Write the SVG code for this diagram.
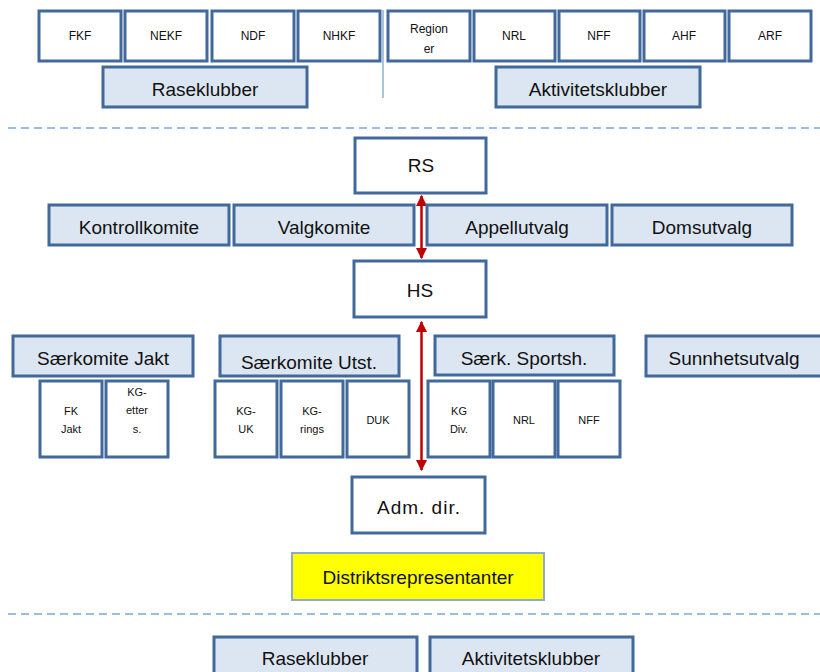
<svg xmlns="http://www.w3.org/2000/svg" width="820" height="672" viewBox="0 0 820 672">
<style>
.w{fill:#ffffff;stroke:#41699c;stroke-width:3}
.b{fill:#dce6f2;stroke:#41699c;stroke-width:3}
.y{fill:#ffff00;stroke:#8eaad0;stroke-width:2}
text{font-family:"Liberation Sans",Arial,sans-serif;fill:#111111;text-anchor:middle}
.s{font-size:12px}
.xs{font-size:11px}
.L{font-size:19px}
.dash{stroke:#7fa6d6;stroke-width:1.5;stroke-dasharray:8 5;fill:none}
.arr{stroke:#c00000;stroke-width:2.5;fill:none;marker-start:url(#ah);marker-end:url(#ah)}
</style>
<defs>
<marker id="ah" viewBox="0 0 10 10" refX="9" refY="5" markerWidth="4.4" markerHeight="4.4" orient="auto-start-reverse">
<path d="M0,0 L10,5 L0,10 z" fill="#c00000"/>
</marker>
</defs>
<rect width="820" height="672" fill="#ffffff"/>
<g id="separators">
<line class="dash" x1="8" y1="128" x2="820" y2="128"/>
<line class="dash" x1="8" y1="614" x2="820" y2="614"/>
<line x1="383" y1="10" x2="383" y2="98" stroke="#8fb0d8" stroke-width="1.5"/>
</g>
<g id="top-row">
<g id="fkf"><rect class="w" x="39" y="11" width="82" height="50"/><text class="s" x="80" y="40">FKF</text></g>
<g id="nekf"><rect class="w" x="125" y="11" width="82" height="50"/><text class="s" x="166" y="40">NEKF</text></g>
<g id="ndf"><rect class="w" x="212" y="11" width="82" height="50"/><text class="s" x="253" y="40">NDF</text></g>
<g id="nhkf"><rect class="w" x="298" y="11" width="82" height="50"/><text class="s" x="339" y="40">NHKF</text></g>
<g id="regioner"><rect class="w" x="388" y="11" width="82" height="50"/><text class="s" x="429" y="33">Region</text><text class="s" x="429" y="53">er</text></g>
<g id="nrl-top"><rect class="w" x="474" y="11" width="81" height="50"/><text class="s" x="514" y="40">NRL</text></g>
<g id="nff-top"><rect class="w" x="559" y="11" width="81" height="50"/><text class="s" x="599" y="40">NFF</text></g>
<g id="ahf"><rect class="w" x="644" y="11" width="81" height="50"/><text class="s" x="684" y="40">AHF</text></g>
<g id="arf"><rect class="w" x="729" y="11" width="82" height="50"/><text class="s" x="770" y="40">ARF</text></g>
<g id="raseklubber-top"><rect class="b" x="103" y="67" width="204" height="40"/><text class="L" x="205" y="96">Raseklubber</text></g>
<g id="aktivitetsklubber-top"><rect class="b" x="496" y="67" width="204" height="40"/><text class="L" x="598" y="96">Aktivitetsklubber</text></g>
</g>
<g id="connectors">
<line class="arr" x1="421.5" y1="196" x2="421.5" y2="258"/>
<line class="arr" x1="421.5" y1="322" x2="421.5" y2="470"/>
</g>
<g id="rs"><rect class="w" x="355" y="138" width="131" height="55"/><text class="L" x="421" y="172">RS</text></g>
<g id="kontrollkomite"><rect class="b" x="49" y="205" width="180" height="40"/><text class="L" x="139" y="234">Kontrollkomite</text></g>
<g id="valgkomite"><rect class="b" x="234" y="205" width="180" height="40"/><text class="L" x="324" y="234">Valgkomite</text></g>
<g id="appellutvalg"><rect class="b" x="427" y="205" width="180" height="40"/><text class="L" x="517" y="234">Appellutvalg</text></g>
<g id="domsutvalg"><rect class="b" x="612" y="205" width="180" height="40"/><text class="L" x="702" y="234">Domsutvalg</text></g>
<g id="hs"><rect class="w" x="354" y="261" width="132" height="56"/><text class="L" x="420" y="297">HS</text></g>
<g id="saerkomite-jakt"><rect class="b" x="13" y="336" width="180" height="40"/><text class="L" x="103" y="365">Særkomite Jakt</text></g>
<g id="saerkomite-utst"><rect class="b" x="220" y="336" width="179" height="40"/><text class="L" x="309" y="369">Særkomite Utst.</text></g>
<g id="saerk-sportsh"><rect class="b" x="435" y="336" width="179" height="39"/><text class="L" x="524" y="365">Særk. Sportsh.</text></g>
<g id="sunnhetsutvalg"><rect class="b" x="646" y="336" width="180" height="40"/><text class="L" x="734" y="365">Sunnhetsutvalg</text></g>
<g id="fk-jakt"><rect class="w" x="40" y="381" width="62" height="76"/><text class="xs" x="71" y="415">FK</text><text class="xs" x="71" y="433">Jakt</text></g>
<g id="kg-etters"><rect class="w" x="106" y="381" width="62" height="76"/><text class="xs" x="137" y="396">KG-</text><text class="xs" x="137" y="414">etter</text><text class="xs" x="137" y="433">s.</text></g>
<g id="kg-uk"><rect class="w" x="215" y="381" width="62" height="76"/><text class="xs" x="246" y="415">KG-</text><text class="xs" x="246" y="433">UK</text></g>
<g id="kg-rings"><rect class="w" x="281" y="381" width="62" height="76"/><text class="xs" x="312" y="415">KG-</text><text class="xs" x="312" y="433">rings</text></g>
<g id="duk"><rect class="w" x="347" y="381" width="62" height="76"/><text class="xs" x="378" y="424">DUK</text></g>
<g id="kg-div"><rect class="w" x="428" y="381" width="62" height="76"/><text class="xs" x="459" y="415">KG</text><text class="xs" x="459" y="433">Div.</text></g>
<g id="nrl"><rect class="w" x="493" y="381" width="62" height="76"/><text class="xs" x="524" y="424">NRL</text></g>
<g id="nff"><rect class="w" x="558" y="381" width="62" height="76"/><text class="xs" x="589" y="424">NFF</text></g>
<g id="adm-dir"><rect class="w" x="352" y="477" width="133" height="56"/><text class="L" x="419" y="514" letter-spacing="1">Adm. dir.</text></g>
<g id="distriktsrepresentanter"><rect class="y" x="292" y="553" width="252" height="47"/><text class="L" x="418" y="584">Distriktsrepresentanter</text></g>
<g id="raseklubber-bottom"><rect class="b" x="214" y="637" width="203" height="45"/><text class="L" x="315" y="665">Raseklubber</text></g>
<g id="aktivitetsklubber-bottom"><rect class="b" x="430" y="637" width="203" height="45"/><text class="L" x="531" y="665">Aktivitetsklubber</text></g>
</svg>
